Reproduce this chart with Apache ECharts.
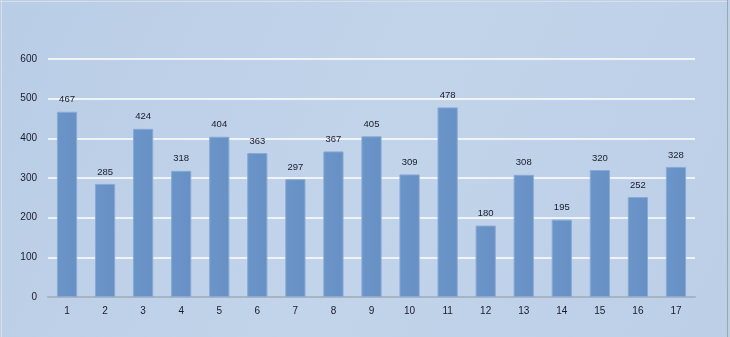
<!DOCTYPE html>
<html><head><meta charset="utf-8">
<script src="https://cdn.jsdelivr.net/npm/echarts@6/dist/echarts.min.js"></script>
<style>html,body{margin:0;padding:0;background:#fff}#c{width:730px;height:337px}</style>
</head><body><div id="c"></div>
<script>
const categories = ['1','2','3','4','5','6','7','8','9','10','11','12','13','14','15','16','17'];
const values = [467,285,424,318,404,363,297,367,405,309,478,180,308,195,320,252,328];
const yTicks = {min:0, max:600, interval:100};

const chart = echarts.init(document.getElementById('c'));
chart.setOption({
  backgroundColor: {type:'linear', x:0, y:0, x2:1, y2:1, colorStops:[{offset:0,color:'#b9cde6'},{offset:0.5,color:'#c2d4ea'},{offset:1,color:'#bccfe7'}]},
  animation:false,
  graphic:[
    {type:'line', shape:{x1:727.5,y1:0,x2:727.5,y2:337}, style:{stroke:'#9aa6b4',lineWidth:1}},
    {type:'line', shape:{x1:0,y1:1.5,x2:727,y2:1.5}, style:{stroke:'#d8dfe8',lineWidth:1}},
    {type:'line', shape:{x1:1.5,y1:0,x2:1.5,y2:337}, style:{stroke:'#d8dfe8',lineWidth:1}}
  ],
  grid:{left:48, right:35, top:59, bottom:40, containLabel:false},
  xAxis:{type:'category', data:categories,
    axisLine:{lineStyle:{color:'#a9b4c2', width:2}}, axisTick:{show:false},
    axisLabel:{color:'#1a1a2a', fontSize:10, fontFamily:'Liberation Sans', margin:9}},
  yAxis:{type:'value', min:yTicks.min, max:yTicks.max, interval:yTicks.interval,
    axisLine:{show:false}, axisTick:{show:false},
    axisLabel:{color:'#1a1a2a', fontSize:10, fontFamily:'Liberation Sans', margin:11},
    splitLine:{lineStyle:{color:'#ffffff', width:1.5}}},
  series:[{type:'bar', data:values, barWidth:'53%',
    itemStyle:{color:{type:'linear',x:0,y:0,x2:1,y2:0,colorStops:[{offset:0,color:'#6b94c8'},{offset:1,color:'#6790c4'}]}, borderColor:'#87a9d6', borderWidth:1},
    label:{show:true, position:'top', distance:7, color:'#1a1a2a', fontSize:9.5, fontFamily:'Liberation Sans'}}]
});
</script></body></html>
